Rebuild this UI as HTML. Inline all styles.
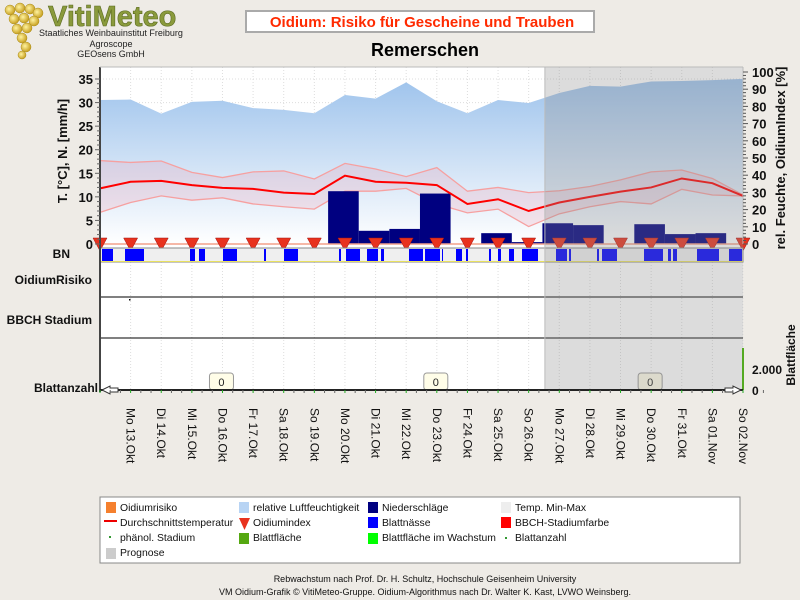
<!DOCTYPE html>
<html><head><meta charset="utf-8"><style>
body{margin:0;background:#eeebe6;width:800px;height:600px;overflow:hidden;font-family:"Liberation Sans",sans-serif}
svg{display:block}
</style></head><body>
<svg width="800" height="600" xmlns="http://www.w3.org/2000/svg" font-family="Liberation Sans, sans-serif">
<defs>
<linearGradient id="hum" x1="0" y1="0" x2="0" y2="1"><stop offset="0" stop-color="#9ec3ec"/><stop offset="1" stop-color="#ffffff"/></linearGradient>
<radialGradient id="grape" cx="0.4" cy="0.4" r="0.6"><stop offset="0" stop-color="#fff3a0"/><stop offset="1" stop-color="#c8a020"/></radialGradient>
</defs>
<g>
<g fill="url(#grape)" stroke="#a88a18" stroke-width="0.5">
<circle cx="10" cy="10" r="5"/><circle cx="20" cy="8" r="5"/><circle cx="30" cy="9" r="5"/><circle cx="38" cy="13" r="5"/>
<circle cx="14" cy="19" r="5"/><circle cx="24" cy="18" r="5"/><circle cx="34" cy="21" r="5"/>
<circle cx="17" cy="29" r="5"/><circle cx="27" cy="28" r="5"/><circle cx="22" cy="38" r="5"/><circle cx="26" cy="47" r="5"/><circle cx="22" cy="55" r="4"/>
</g>
<text x="48" y="26" font-size="29" font-weight="bold" fill="#8a9a3c" stroke="#5a6a20" stroke-width="0.6">VitiMeteo</text>
<text x="111" y="36" font-size="9" text-anchor="middle" fill="#222">Staatliches Weinbauinstitut Freiburg</text>
<text x="111" y="47" font-size="9" text-anchor="middle" fill="#222">Agroscope</text>
<text x="111" y="57" font-size="9" text-anchor="middle" fill="#222">GEOsens GmbH</text>
</g>
<rect x="246" y="11" width="348" height="21" fill="#fff" stroke="#aaa" stroke-width="2"/>
<text x="422" y="27" font-size="15" font-weight="bold" fill="#ff2a00" text-anchor="middle">Oidium: Risiko für Gescheine und Trauben</text>
<text x="425" y="56" font-size="18" font-weight="bold" fill="#000" text-anchor="middle">Remerschen</text>

<rect x="100" y="67" width="643" height="323" fill="#fff"/>
<g id="grid"></g>
<g id="main"></g>
<g id="panels"></g>
<g id="axes"></g>

<g>
<rect x="100" y="497" width="640" height="66" fill="#fff" stroke="#888"/>
<g font-size="10.4" fill="#111">
<rect x="106" y="502" width="10" height="11" fill="#f5802e"/><text x="120" y="511">Oidiumrisiko</text>
<rect x="104" y="520" width="13" height="2" fill="#e00"/><text x="120" y="526">Durchschnittstemperatur</text>
<rect x="109" y="536" width="2" height="2" fill="#393"/><text x="120" y="541">phänol. Stadium</text>
<rect x="106" y="548" width="10" height="11" fill="#ccc"/><text x="120" y="556">Prognose</text>
<rect x="239" y="502" width="10" height="11" fill="#b8d4f4"/><text x="253" y="511">relative Luftfeuchtigkeit</text>
<path d="M239,518 L250,518 L244.5,530Z" fill="#e8321e"/><text x="253" y="526">Oidiumindex</text>
<rect x="239" y="533" width="10" height="11" fill="#55a811"/><text x="253" y="541">Blattfläche</text>
<rect x="368" y="502" width="10" height="11" fill="#000080"/><text x="382" y="511">Niederschläge</text>
<rect x="368" y="517" width="10" height="11" fill="#0000ff"/><text x="382" y="526">Blattnässe</text>
<rect x="368" y="533" width="10" height="11" fill="#00ff00"/><text x="382" y="541">Blattfläche im Wachstum</text>
<rect x="501" y="502" width="10" height="11" fill="#eee"/><text x="515" y="511">Temp. Min-Max</text>
<rect x="501" y="517" width="10" height="11" fill="#f00"/><text x="515" y="526">BBCH-Stadiumfarbe</text>
<rect x="505" y="537" width="2" height="2" fill="#393"/><text x="515" y="541">Blattanzahl</text>
</g></g>
<text x="425" y="582" font-size="9" text-anchor="middle" fill="#111">Rebwachstum nach Prof. Dr. H. Schultz, Hochschule Geisenheim University</text>
<text x="425" y="595" font-size="9" text-anchor="middle" fill="#111">VM Oidium-Grafik © VitiMeteo-Gruppe. Oidium-Algorithmus nach Dr. Walter K. Kast, LVWO Weinsberg.</text>
</svg>
<script>
const dates=["","Mo 13.Okt","Di 14.Okt","Mi 15.Okt","Do 16.Okt","Fr 17.Okt","Sa 18.Okt","So 19.Okt","Mo 20.Okt","Di 21.Okt","Mi 22.Okt","Do 23.Okt","Fr 24.Okt","Sa 25.Okt","So 26.Okt","Mo 27.Okt","Di 28.Okt","Mi 29.Okt","Do 30.Okt","Fr 31.Okt","Sa 01.Nov","So 02.Nov"];
const humidity=[83.7,84,75.8,82.6,83.3,79,78,76,86.6,84.5,94,83,76,83.7,82,87.8,91.9,91.5,94.5,94.8,95.3,96];
const tempMean=[11.8,13.2,13.4,12.5,11.9,11.7,10.9,10.6,14.5,13.2,13.0,12.5,8.5,9.5,7.0,8.8,10.0,11.1,12.0,13.9,12.9,10.2];
const tempMax=[17.7,17.3,17.6,15.2,14.1,15.3,15.5,13.8,17.1,15.9,14.3,16.2,11.2,12.0,10.9,11.3,12.2,13.6,15.3,15.7,13.9,10.4];
const tempMin=[6.7,8.8,10.2,9.3,9.8,8.5,7.9,7.4,11.2,11.2,11.8,8.5,6.6,7.4,3.7,6.4,7.9,9.0,8.5,11.6,10.4,10.2];
const precip=[0,0,0,0,0,0,0,11.2,2.8,3.2,10.7,0,2.3,0.4,4.4,4.0,0.1,4.2,2.1,2.3,0];
const oidiumIndex=[0,0,0,0,0,0,0,0,0,0,0,0,0,0,0,0,0,0,0,0,0,0];
const wetStart=[102,125,190,199,223,264,284,339,346,367,381,409,425,442,456,466,489,498,509,522,556,569,597,602,644,668,673,697,729];
const wetEnd=[113,144,195,205,237,266,298,341,360,378,384,423,440,443,462,468,491,501,514,538,567,571,599,617,663,671,677,719,742];
const leafCountDays=[4,11,18];
const leafCountValues=["0","0","0"];
const leftTicks=[0,5,10,15,20,25,30,35];
const rightTicks=[0,10,20,30,40,50,60,70,80,90,100];
const progStart=14.53;

const NS="http://www.w3.org/2000/svg";
const X0=100,X1=743,Y0=244,Ytop=67;
const step=(X1-X0)/(humidity.length-1);
const xs=i=>X0+i*step;
const yT=v=>Y0-v*4.714;
const yH=v=>Y0-v*1.72;
function mk(tag,at,parent){const e=document.createElementNS(NS,tag);for(const k in at)e.setAttribute(k,at[k]);document.getElementById(parent).appendChild(e);return e;}
for(const t of leftTicks){if(t===0)continue;const g=mk('line',{x1:X0,x2:X1,y1:yT(t),y2:yT(t),stroke:'#ddd','stroke-dasharray':'1,2'},'grid');}
for(let i=1;i<dates.length;i++){const g=mk('line',{x1:xs(i),x2:xs(i),y1:Ytop,y2:390,stroke:'#ddd','stroke-dasharray':'1,2'},'grid');}
let hp=`M${X0},${Y0} `+humidity.map((v,i)=>`L${xs(i)},${yH(v)}`).join(' ')+` L${X1},${Y0}Z`;
let h=mk('path',{d:hp,fill:'url(#hum)'},'main');


let bp='M'+tempMax.map((v,i)=>`${xs(i)},${yT(v)}`).join(' L')+' L'+tempMin.map((v,i)=>`${xs(i)},${yT(v)}`).reverse().join(' L')+'Z';
let b=mk('path',{d:bp,fill:'rgba(240,150,170,0.22)'},'main');


let lmax=mk('polyline',{points:tempMax.map((v,i)=>`${xs(i)},${yT(v)}`).join(' '),fill:'none',stroke:'#f6a0a0','stroke-width':1.3},'main');


let lmin=mk('polyline',{points:tempMin.map((v,i)=>`${xs(i)},${yT(v)}`).join(' '),fill:'none',stroke:'#f6a0a0','stroke-width':1.3},'main');


precip.forEach((v,i)=>{if(v<=0)return;const x=xs(i)+0.45*step;const r=mk('rect',{x:x,y:yT(v),width:step,height:Y0-yT(v),fill:'#000080'},'main');

});
let ml=mk('polyline',{points:tempMean.map((v,i)=>`${xs(i)},${yT(v)}`).join(' '),fill:'none',stroke:'#ff0000','stroke-width':2},'main');


let bl=mk('line',{x1:X0,x2:X1,y1:Y0,y2:Y0,stroke:'#f3a08a','stroke-width':1.5},'main');


oidiumIndex.forEach((v,i)=>{const x=xs(i),y=yH(v);const t=mk('path',{d:`M${x-7},${y-6} L${x+7},${y-6} L${x},${y+7}Z`,fill:'#e8321e',stroke:'#a01010','stroke-width':0.5},'main');

});
let st=mk('rect',{x:X0,y:248,width:X1-X0,height:14,fill:'#efefef',stroke:'#888'},'panels');


wetStart.forEach((s,i)=>{const r=mk('rect',{x:s,y:249,width:wetEnd[i]-s,height:12,fill:'#0000ff'},'panels');

});
mk('line',{x1:X0,x2:X1,y1:261.5,y2:261.5,stroke:'#e8e060','stroke-width':1},'panels');
mk('line',{x1:X0,x2:X1,y1:297,y2:297,stroke:'#000'},'panels');
mk('line',{x1:X0,x2:X1,y1:338,y2:338,stroke:'#000'},'panels');
mk('rect',{x:129,y:299,width:1.5,height:1.5,fill:'#000'},'panels');
leafCountDays.forEach((d,k)=>{const x=xs(d)-1;const r=mk('rect',{x:x-12,y:373,width:24,height:17,rx:3,fill:'#fffde8',stroke:'#999'},'panels');


const t=mk('text',{x:x,y:386,'font-size':11,'text-anchor':'middle',fill:'#222'},'panels');t.textContent=leafCountValues[k];

});
const px=xs(progStart);
let pr=mk('rect',{x:px,y:Ytop,width:X1-px,height:390-Ytop,fill:'rgba(140,140,140,0.3)'},'panels');


mk('line',{x1:px,x2:px,y1:Ytop,y2:390,stroke:'#bbb'},'panels');
const A='axes';
mk('line',{x1:X0,x2:X0,y1:Ytop,y2:392,stroke:'#444','stroke-width':2},A);
mk('line',{x1:X0,x2:X1,y1:Ytop,y2:Ytop,stroke:'#bbb'},A);
mk('line',{x1:X1,x2:X1,y1:Ytop,y2:Y0,stroke:'#bbb'},A);
mk('line',{x1:X1,x2:X1,y1:348,y2:390,stroke:'#5a2','stroke-width':2},A);
mk('line',{x1:X0,x2:X1,y1:390,y2:390,stroke:'#222','stroke-width':2},A);
mk('path',{d:'M102,390 L110,386 L110,388 L118,388 L118,392 L110,392 L110,394Z',fill:'#fff',stroke:'#333'},A);
mk('path',{d:'M741,390 L733,386 L733,388 L725,388 L725,392 L733,392 L733,394Z',fill:'#fff',stroke:'#333'},A);
for(let v=0;v<=35;v++){mk('line',{x1:X0-(v%5?3:5),x2:X0,y1:yT(v),y2:yT(v),stroke:'#666'},A);}
leftTicks.forEach(t=>{const e=mk('text',{x:93,y:yT(t)+5,'font-size':13,'font-weight':'bold','text-anchor':'end',fill:'#111'},A);e.textContent=t;

});
for(let v=0;v<=100;v+=2){mk('line',{x1:X1,x2:X1+(v%10?3:5),y1:yH(v),y2:yH(v),stroke:'#555'},A);}
rightTicks.forEach(t=>{const e=mk('text',{x:752,y:yH(t)+5,'font-size':13,'font-weight':'bold',fill:'#111'},A);e.textContent=t;

});
for(let i=0;i<dates.length*3;i++){const x=X0+i*step/3;mk('line',{x1:x,x2:x,y1:390,y2:393,stroke:i%3?'#666':'#2a2'},A);}
dates.forEach((d,i)=>{if(!d)return;const x=xs(i);const e=mk('text',{x:0,y:0,'font-size':12,fill:'#111',transform:`translate(${x-4},408) rotate(90)`},A);e.textContent=d;

});
const lab=(txt,x,y,name,anchor,rot,size)=>{const e=mk('text',{x:0,y:0,'font-size':size||12,'font-weight':'bold',fill:'#111','text-anchor':anchor||'end',transform:`translate(${x},${y})`+(rot?` rotate(${rot})`:'')},A);e.textContent=txt;};
lab('T. [°C], N. [mm/h]',67,151,'y-axis-title-left','middle',-90,13);
lab('rel. Feuchte, OidiumIndex [%]',785,158,'y-axis-title-right','middle',-90,13);
lab('BN',70,258,'bn-label');
lab('OidiumRisiko',92,284,'oidiumrisiko-label');
lab('BBCH Stadium',92,324,'bbch-label');
lab('Blattanzahl',98,392,'blattanzahl-label');
lab('Blattfläche',795,355,'blattflaeche-axis-title','middle',-90,12);
lab('2.000',752,374,'blattflaeche-tick-2000','start');
lab('0',752,395,'blattflaeche-tick-0','start');
</script>
</body></html>
